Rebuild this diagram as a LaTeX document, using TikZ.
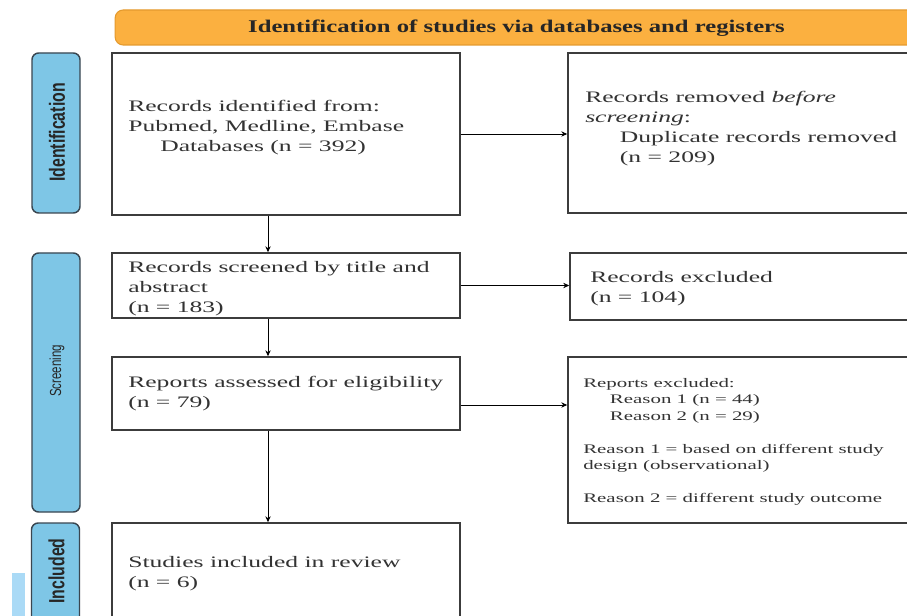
\documentclass[tikz,border=0pt]{standalone}
\usepackage{fontspec}
\setmainfont{Liberation Serif}[FakeStretch=1.6]
\newfontfamily\hdrfont{Liberation Serif}[FakeStretch=1.38]
\newfontfamily\barfont{Liberation Sans}[FakeStretch=0.72]
\usetikzlibrary{arrows.meta}
\definecolor{hdrfill}{HTML}{FBB040}
\definecolor{hdrdraw}{HTML}{E49A2E}
\definecolor{barfill}{HTML}{7EC6E6}
\definecolor{bardraw}{HTML}{3A4650}
\definecolor{strayc}{HTML}{AADAF6}
\definecolor{boxc}{HTML}{3C3C3C}
\definecolor{txtc}{HTML}{333333}
\tikzset{
  boxnode/.style={draw=boxc, line width=1.1pt, fill=white, inner sep=0pt},
  barnode/.style={draw=bardraw, line width=1.1pt, fill=barfill, rounded corners=5pt, inner sep=0pt, minimum width=36pt},
  bodytxt/.style={anchor=west, align=left, inner sep=0pt, text=txtc, font=\fontsize{12}{15}\selectfont},
  smalltxt/.style={anchor=west, align=left, inner sep=0pt, text=txtc, font=\fontsize{9.8}{12.4}\selectfont},
  bartxt/.style={rotate=90, inner sep=0pt, text=black!85},
  arr/.style={draw=black, line width=0.7pt, -{Stealth[length=4.5pt,width=4pt]}}
}
\begin{document}
\begin{tikzpicture}[x=0.75pt,y=-0.75pt]
\path[use as bounding box] (0,0) rectangle (907,616);
\clip (0,0) rectangle (907,616);
\fill[white] (0,0) rectangle (907,616);

% header
\node[draw=hdrdraw, line width=0.8pt, fill=hdrfill, rounded corners=6pt, minimum width=602pt, minimum height=26.25pt, inner sep=0pt] (hdr) at (516.5,27.5) {};
\node[inner sep=0pt, font=\hdrfont\bfseries\fontsize{13.4}{15}\selectfont, text=black!85] (hdrtxt) at (516.5,28) {Identification of studies via databases and registers};

% side bars
\node[barnode, minimum height=120pt] (bid) at (56,133) {};
\node[bartxt, font=\barfont\bfseries\fontsize{16.5}{16}\selectfont] (bidt) at (57,132.5) {Identification};
\node[barnode, minimum height=194.25pt] (bsc) at (56,382.5) {};
\node[bartxt, font=\barfont\fontsize{12}{12}\selectfont] (bsct) at (57,371) {Screening};
\node[barnode, minimum height=117.75pt] (bin) at (55.5,601.5) {};
\node[bartxt, font=\barfont\bfseries\fontsize{16.5}{16}\selectfont] (bint) at (56.5,571) {Included};
\fill[strayc] (12,573) rectangle (25,640);

% main boxes
\node[boxnode, minimum width=261pt, minimum height=121.5pt] (ident) at (286,134) {};
\node[boxnode, minimum width=294pt, minimum height=120pt] (remov) at (764,133) {};
\node[boxnode, minimum width=261pt, minimum height=48.75pt] (scr) at (286,285.5) {};
\node[boxnode, minimum width=292.5pt, minimum height=50.25pt] (excl) at (765,286.5) {};
\node[boxnode, minimum width=261pt, minimum height=54.75pt] (rep) at (286,393.5) {};
\node[boxnode, minimum width=294pt, minimum height=124.5pt] (repex) at (764,440) {};
\node[boxnode, minimum width=261pt, minimum height=117.75pt] (incl) at (286,601.5) {};

% texts
\node[bodytxt] (t1) at (128,127.5) {Records identified from:\\Pubmed, Medline, Embase\\\hspace*{24pt}Databases (n = 392)};
\node[bodytxt] (t2) at (585,128.5) {Records removed \textit{before}\\\textit{screening}:\\\hspace*{26pt}Duplicate records removed\\\hspace*{26pt}(n = 209)};
\node[bodytxt] (t3) at (128,289) {Records screened by title and\\abstract\\(n = 183)};
\node[bodytxt] (t4) at (590,288.5) {Records excluded\\(n = 104)};
\node[bodytxt] (t5) at (128,393.5) {Reports assessed for eligibility\\(n = 79)};
\node[smalltxt] (t6) at (583,442) {Reports excluded:\\\hspace*{20pt}Reason 1 (n = 44)\\\hspace*{20pt}Reason 2 (n = 29)\\[12.4pt]Reason 1 = based on different study\\design (observational)\\[12.4pt]Reason 2 = different study outcome};
\node[bodytxt] (t7) at (128,573.5) {Studies included in review\\(n = 6)};

% connectors
\coordinate (vx) at (268,0);
\coordinate (hy) at (0,405);
\draw[arr] (vx |- ident.south) -- (vx |- scr.north);
\draw[arr] (vx |- scr.south) -- (vx |- rep.north);
\draw[arr] (vx |- rep.south) -- (vx |- incl.north);
\draw[arr] (ident.east) -- (ident.east -| remov.west);
\draw[arr] (scr.east) -- (scr.east -| excl.west);
\draw[arr] (hy -| rep.east) -- (hy -| repex.west);
\end{tikzpicture}
\end{document}
